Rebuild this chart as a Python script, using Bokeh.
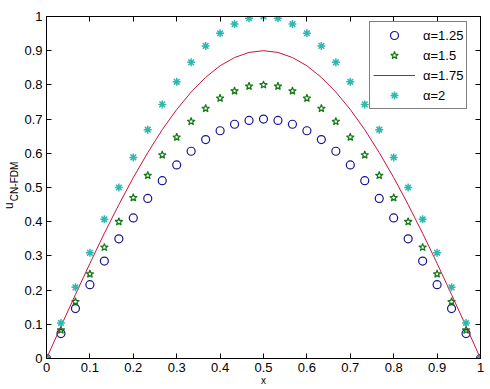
from math import pi
from bokeh.plotting import figure
from bokeh.layouts import row
from bokeh.models import Range1d, LinearAxis, Legend, LegendItem, Label, FixedTicker
from bokeh.embed import file_html
from bokeh.resources import INLINE

# ---- data ----
x = [0, 0.0333, 0.0667, 0.1, 0.1333, 0.1667, 0.2, 0.2333, 0.2667, 0.3, 0.3333,
     0.3667, 0.4, 0.4333, 0.4667, 0.5, 0.5333, 0.5667, 0.6, 0.6333, 0.6667,
     0.7, 0.7333, 0.7667, 0.8, 0.8333, 0.8667, 0.9, 0.9333, 0.9667, 1.0]

u_a125 = [0, 0.073, 0.146, 0.216, 0.285, 0.35, 0.411, 0.468, 0.520, 0.566, 0.606,
          0.640, 0.666, 0.685, 0.696, 0.7, 0.696, 0.685, 0.666, 0.640, 0.606,
          0.566, 0.520, 0.468, 0.411, 0.35, 0.285, 0.216, 0.146, 0.073, 0]

u_a150 = [0, 0.083, 0.166, 0.247, 0.325, 0.4, 0.470, 0.535, 0.595, 0.647, 0.693,
          0.731, 0.761, 0.782, 0.796, 0.8, 0.796, 0.782, 0.761, 0.731, 0.693,
          0.647, 0.595, 0.535, 0.470, 0.4, 0.325, 0.247, 0.166, 0.083, 0]

u_a175 = [0, 0.094, 0.187, 0.278, 0.366, 0.45, 0.529, 0.602, 0.669, 0.728, 0.779,
          0.822, 0.856, 0.880, 0.895, 0.9, 0.895, 0.880, 0.856, 0.822, 0.779,
          0.728, 0.669, 0.602, 0.529, 0.45, 0.366, 0.278, 0.187, 0.094, 0]

u_a200 = [0, 0.104, 0.208, 0.309, 0.407, 0.5, 0.588, 0.669, 0.743, 0.809, 0.866,
          0.914, 0.951, 0.978, 0.995, 1.0, 0.995, 0.978, 0.951, 0.914, 0.866,
          0.809, 0.743, 0.669, 0.588, 0.5, 0.407, 0.309, 0.208, 0.104, 0]

series_labels = ["α=1.25", "α=1.5", "α=1.75", "α=2"]

ticks = [0, 0.1, 0.2, 0.3, 0.4, 0.5, 0.6, 0.7, 0.8, 0.9, 1]
tick_labels = ["0", "0.1", "0.2", "0.3", "0.4", "0.5", "0.6", "0.7", "0.8", "0.9", "1"]

FONT = "Liberation Sans"

# narrow strip that carries the y-axis title u_{CN-FDM}
lab = figure(width=19, height=389, x_range=Range1d(0, 19), y_range=Range1d(0, 389),
             output_backend="svg", toolbar_location=None,
             x_axis_location=None, y_axis_location=None, min_border=0,
             outline_line_color=None, background_fill_color="white",
             border_fill_color="white")
lab.xgrid.visible = False
lab.ygrid.visible = False
lab.add_layout(Label(x=8.5, y=170, text="u", angle=pi / 2, text_font=FONT,
                     text_font_size="12px", text_align="left",
                     text_baseline="alphabetic", text_color="black"))
lab.add_layout(Label(x=13.5, y=179, text="CN-FDM", angle=pi / 2, text_font=FONT,
                     text_font_size="10px", text_align="left",
                     text_baseline="alphabetic", text_color="black"))

p = figure(width=471, height=389,
           x_range=Range1d(0, 1), y_range=Range1d(0, 1),
           output_backend="svg", toolbar_location=None,
           min_border_left=27, min_border_right=10,
           min_border_top=16, min_border_bottom=31,
           background_fill_color="white", border_fill_color="white",
           outline_line_color="black", outline_line_width=1)

p.xgrid.visible = False
p.ygrid.visible = False

overrides = dict(zip(ticks, tick_labels))
for ax in (p.xaxis[0], p.yaxis[0]):
    ax.ticker = FixedTicker(ticks=ticks)
    ax.major_label_overrides = overrides
    ax.major_tick_in = 5
    ax.major_tick_out = 0
    ax.minor_tick_in = 0
    ax.minor_tick_out = 0
    ax.major_label_standoff = 4
    ax.major_label_text_font = FONT
    ax.major_label_text_font_size = "13px"
    ax.major_label_text_color = "black"
    ax.axis_line_color = "black"
    ax.major_tick_line_color = "black"

p.xaxis[0].axis_label = "x"
p.xaxis[0].axis_label_standoff = 0
p.xaxis[0].axis_label_text_font = FONT
p.xaxis[0].axis_label_text_font_size = "10px"
p.xaxis[0].axis_label_text_font_style = "normal"
p.xaxis[0].axis_label_text_color = "black"

# mirrored tick marks on the top and right edges (no labels)
for loc in ("above", "right"):
    ax = LinearAxis(ticker=FixedTicker(ticks=ticks),
                    major_tick_in=5, major_tick_out=0,
                    minor_tick_in=0, minor_tick_out=0,
                    major_label_text_font_size="1px",
                    major_label_text_color=None,
                    major_label_standoff=0,
                    axis_line_color="black", major_tick_line_color="black")
    p.add_layout(ax, loc)

r1 = p.scatter(x, u_a125, marker="circle", size=8, fill_color=None,
               line_color="#16168f", line_width=1.2)
r2 = p.scatter(x, u_a150, marker="star", size=8, fill_color=None,
               line_color="#157a15", line_width=1.2)
r3 = p.line(x, u_a175, line_color="#c8143c", line_width=1)
r4 = p.scatter(x, u_a200, marker="asterisk", size=8,
               line_color="#2fb8b0", line_width=1.5)

legend = Legend(items=[LegendItem(label=series_labels[0], renderers=[r1]),
                       LegendItem(label=series_labels[1], renderers=[r2]),
                       LegendItem(label=series_labels[2], renderers=[r3]),
                       LegendItem(label=series_labels[3], renderers=[r4])],
                location=(323, 249), padding=3, spacing=0, margin=0,
                glyph_width=42, glyph_height=20, label_height=20,
                label_standoff=8, label_text_font=FONT,
                label_text_font_size="13px", label_text_color="black",
                border_line_color="black", border_line_width=1,
                background_fill_color="white", background_fill_alpha=1)
p.add_layout(legend, "center")

layout = row(lab, p, spacing=0)
open("out.html", "w").write(file_html(layout, INLINE))
